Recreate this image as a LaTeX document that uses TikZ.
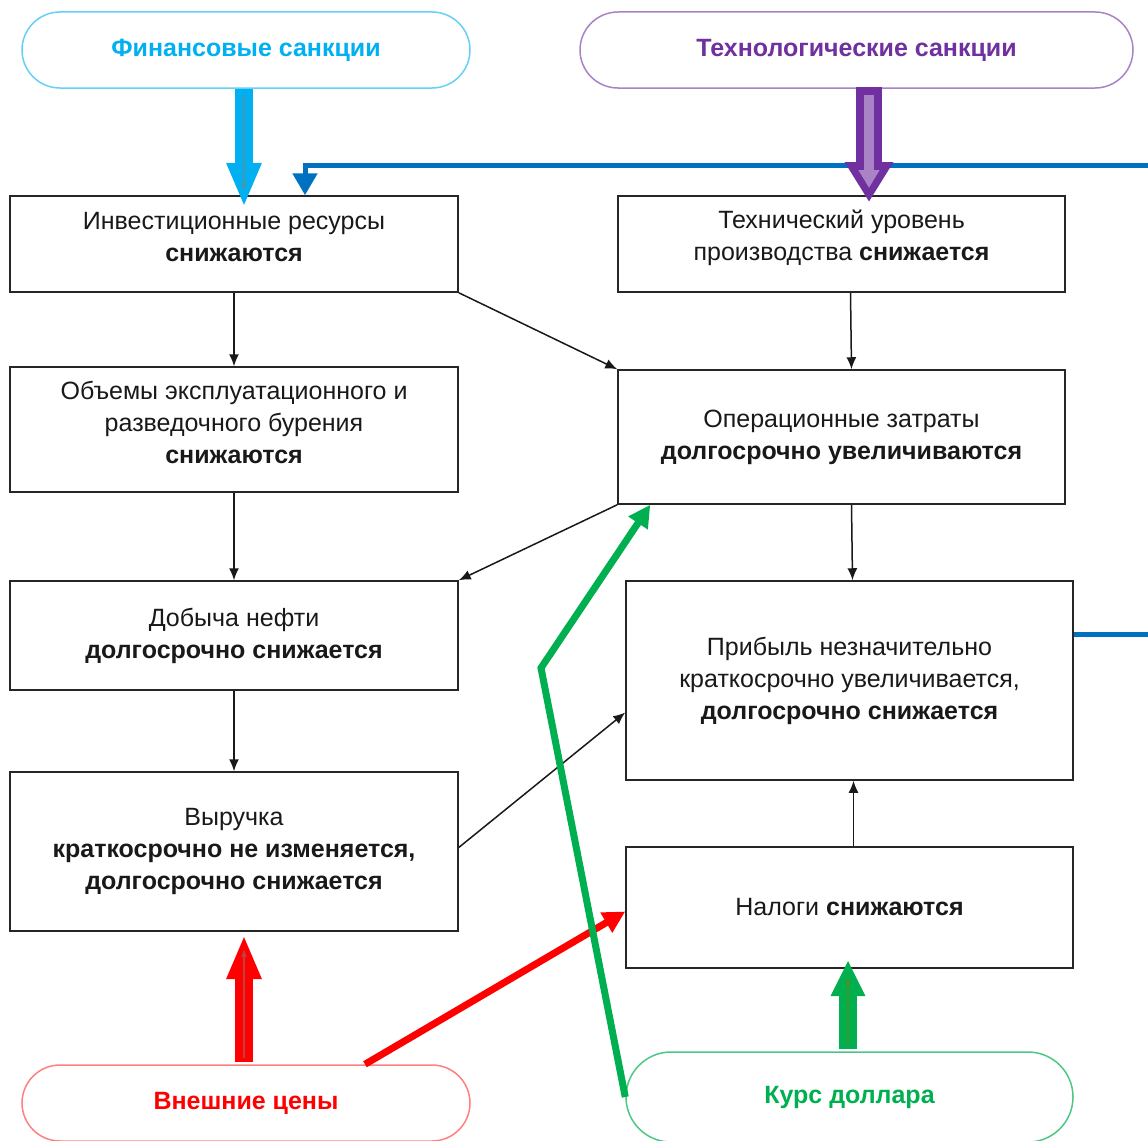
\documentclass[tikz,border=0pt]{standalone}
\usepackage{fontspec}
\setmainfont{Liberation Sans}
\usetikzlibrary{positioning}
\usetikzlibrary{arrows}
\usetikzlibrary{arrows.meta}

\definecolor{FinBlue}{RGB}{0,176,240}
\definecolor{TechPurple}{RGB}{112,48,160}
\definecolor{LinkBlue}{RGB}{0,112,192}
\definecolor{PriceRed}{RGB}{255,0,0}
\definecolor{RateGreen}{RGB}{0,176,80}

\begin{document}
\begin{tikzpicture}
          [
          x=1pt, y=-1pt,
          font=\fontsize{25}{32}\selectfont,
          Box/.style={rectangle, draw=black!85, fill=white, line width=1.5pt, text=black!90, align=center, minimum width=448pt},
          Oval/.style={rectangle, rounded corners=38pt, fill=white, line width=1.5pt, font=\fontsize{25}{32}\selectfont\bfseries, minimum width=448pt, minimum height=76pt},
          Thin/.style={draw=black!90, line width=1.5pt, -{Latex[length=12pt,width=10pt]}},
          Fat/.style={line width=18pt, -{Triangle[length=44pt,width=32pt]}},
          Core/.style={line width=1.5pt, -{Triangle[length=8pt,width=5pt]}},
          Bold/.style={line width=7pt, -{Triangle[length=22pt,width=22pt]}},
          ]
          \useasboundingbox (0,0) rectangle (1148,1140);

          % Nodes
          \node[Oval, draw=FinBlue!60, text=FinBlue] (Fin) at (246,50) {Финансовые санкции};
          \node[Oval, draw=TechPurple!60, text=TechPurple, minimum width=553pt] (Tech) at (856.5,50) {Технологические санкции};

          \node[Box, minimum height=96pt, text depth=14pt] (Invest) at (234,244) {Инвестиционные ресурсы\\\textbf{снижаются}};
          \node[Box, minimum width=447pt, minimum height=96pt, text depth=18pt] (Level) at (841.5,244) {Технический уровень\\производства \textbf{снижается}};
          \node[Box, minimum height=125pt, text depth=14pt] (Drill) at (234,429.5) {Объемы эксплуатационного и\\разведочного бурения\\\textbf{снижаются}};
          \node[Box, minimum width=447pt, minimum height=134pt] (Costs) at (841.5,437) {Операционные затраты\\\textbf{долгосрочно увеличиваются}};
          \node[Box, minimum height=109pt] (Output) at (234,635.5) {Добыча нефти\\\textbf{долгосрочно снижается}};
          \node[Box, minimum width=447pt, minimum height=199pt] (Profit) at (849.5,680.5) {Прибыль незначительно\\краткосрочно увеличивается,\\\textbf{долгосрочно снижается}};
          \node[Box, minimum height=159pt] (Revenue) at (234,851.5) {Выручка\\\textbf{краткосрочно не изменяется,}\\\textbf{долгосрочно снижается}};
          \node[Box, minimum width=447pt, minimum height=121pt] (Taxes) at (849.5,907.5) {Налоги \textbf{снижаются}};

          \node[Oval, draw=PriceRed!50, text=PriceRed] (Prices) at (246,1103) {Внешние цены};
          \node[Oval, draw=RateGreen!70, text=RateGreen, minimum width=447pt, minimum height=90pt, rounded corners=45pt] (Rate) at (849.5,1097) {Курс доллара};

          \coordinate (FinTip) at (244,207);
          \coordinate (TechTip) at (869,202);
          \coordinate (PriceTip) at (244,935);
          \coordinate (RateTip) at (848,960);
          \coordinate (Bend) at (541,668);
          \coordinate (LinkCorner) at (1160,165);

          % Lines
          \draw[Thin] (Invest) -- (Drill);
          \draw[Thin] (Invest.south east) -- (Costs.north west);
          \draw[Thin] ([xshift=9pt]Level.south) -- ([xshift=10pt]Costs.north);
          \draw[Thin] (Drill) -- (Output);
          \draw[Thin] (Costs.south west) -- (Output.north east);
          \draw[Thin] ([xshift=10pt]Costs.south) -- ([xshift=3pt]Profit.north);
          \draw[Thin] (Output) -- (Revenue);
          \draw[Thin] ([yshift=4pt]Revenue.east) -- ([yshift=-32pt]Profit.west);
          \draw[Thin] ([xshift=4pt]Taxes.north) -- ([xshift=4pt]Profit.south);

          \draw[LinkBlue, line width=5pt, -{Triangle[length=22pt,width=24pt]}]
            ([yshift=46pt]Profit.east) -| (LinkCorner) -| ([xshift=71pt]Invest.north);

          \draw[Bold, PriceRed] ([xshift=119pt]Prices.north) -- ([yshift=-4pt]Taxes.west);
          \draw[Bold, RateGreen] (Rate.west) -- (Bend) -- ([xshift=33pt]Costs.south west);

          % fat arrows
          \draw[Fat, FinBlue] ([xshift=-2pt]Fin.south) -- (FinTip);
          \draw[Core, FinBlue!40!gray] ([xshift=-2pt, yshift=-6pt]Fin.south) -- ([yshift=16pt]FinTip);

          \draw[Fat, TechPurple, line width=26pt, -{Triangle[length=40pt,width=46pt]}] ([xshift=12.5pt, yshift=2pt]Tech.south) -- (TechTip);
          \draw[TechPurple!60!white, line width=10pt, -{Triangle[length=18pt,width=20pt]}] ([xshift=12.5pt, yshift=-6pt]Tech.south) -- ([yshift=14pt]TechTip);

          \draw[Fat, PriceRed] ([xshift=-2pt, yshift=2pt]Prices.north) -- (PriceTip);
          \draw[Core, PriceRed!50!gray] ([xshift=-2pt, yshift=6pt]Prices.north) -- ([yshift=-14pt]PriceTip);

          \draw[Fat, RateGreen, -{Triangle[length=36pt,width=32pt]}] ([xshift=-1.5pt, yshift=2pt]Rate.north) -- (RateTip);
          \draw[Core, RateGreen!50!olive] ([xshift=-1.5pt, yshift=6pt]Rate.north) -- ([yshift=-16pt]RateTip);

        \end{tikzpicture}
\end{document}
